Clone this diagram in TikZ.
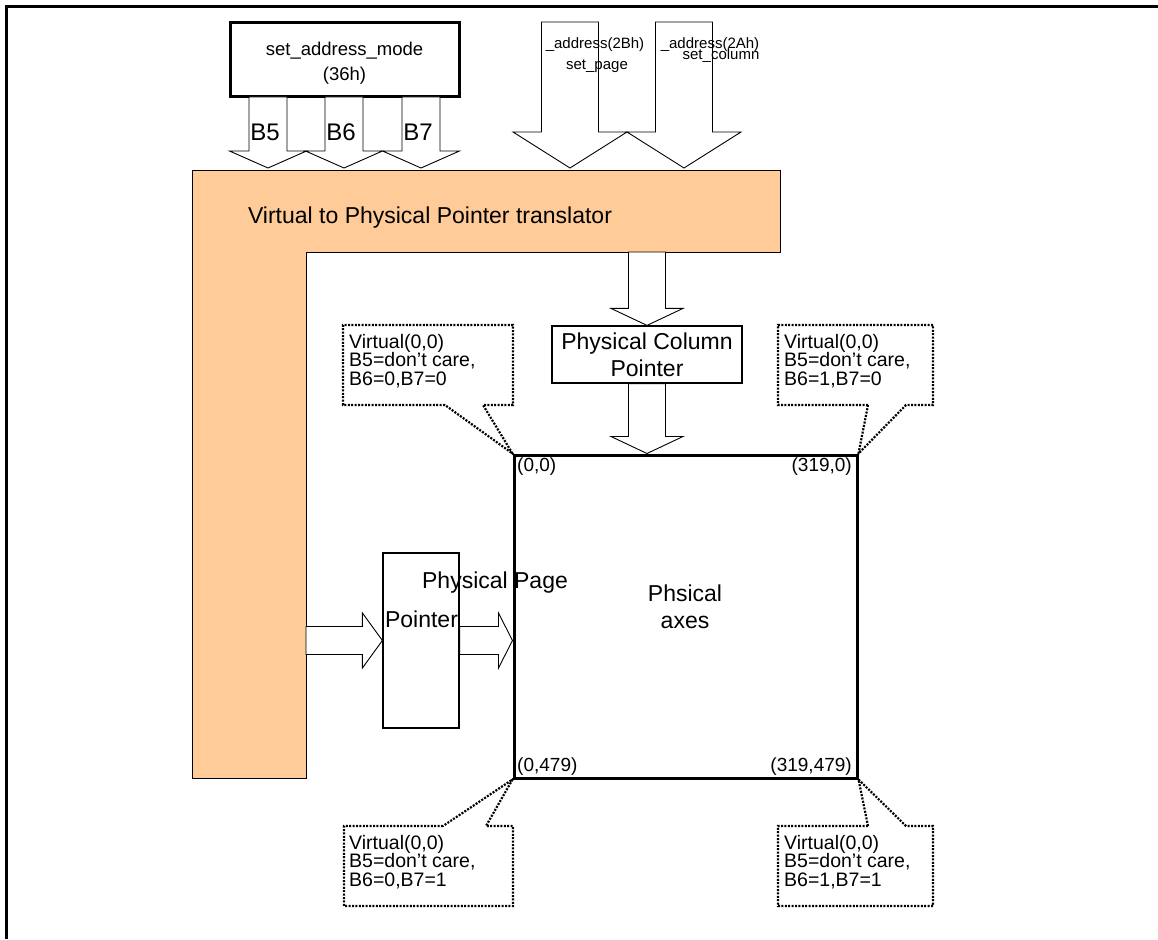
\documentclass[tikz,border=0pt]{standalone}
\usepackage{fontspec}
\setmainfont{Liberation Sans}
\usetikzlibrary{calc}

\definecolor{transorange}{RGB}{255,204,153}

\tikzset{
  blockarrow/.style={draw, fill=white, line width=0.9pt, line join=miter},
  cmdbox/.style={draw, line width=3pt, minimum width=229pt, minimum height=74pt,
    align=center, font=\fontsize{18.5}{25}\selectfont},
  ptrbox/.style={draw, line width=1.2pt, inner sep=0pt},
  bigtext/.style={font=\fontsize{23}{27}\selectfont, inner sep=0pt, align=center},
  smalltext/.style={font=\fontsize{15}{17}\selectfont, inner sep=0pt},
  cornertext/.style={font=\fontsize{19}{21}\selectfont, inner sep=0pt},
  calltext/.style={font=\fontsize{19.5}{18.5}\selectfont, inner sep=0pt, align=left, anchor=north west},
  callout/.style={draw, line width=2.2pt, dash pattern=on 2pt off 1.4pt},
}

% down block arrow: tail, tip, half shaft, half head, head length
\newcommand\downblock[5]{%
  \draw[blockarrow] ($(#1)+(-#3,0)$) -- ($(#2)+(-#3,-#5)$) -- ($(#2)+(-#4,-#5)$) -- (#2)
    -- ($(#2)+(#4,-#5)$) -- ($(#2)+(#3,-#5)$) -- ($(#1)+(#3,0)$) -- cycle;}
% right block arrow: tail, tip, half shaft, half head, head length
\newcommand\rightblock[5]{%
  \draw[blockarrow] ($(#1)+(0,-#3)$) -- ($(#2)+(-#5,-#3)$) -- ($(#2)+(-#5,-#4)$) -- (#2)
    -- ($(#2)+(-#5,#4)$) -- ($(#2)+(-#5,#3)$) -- ($(#1)+(0,#3)$) -- cycle;}

\begin{document}
\begin{tikzpicture}[x=1pt, y=-1pt]

  \useasboundingbox (0,0) rectangle (1158,939);

  % Frame
  \draw[line width=3pt] (6,939) -- (6,7) -- (1158,7);

  % Translator
  \draw[fill=transorange, line width=1pt] (192,170) -- (780,170) -- (780,252)
    -- (306,252) -- (306,778) -- (192,778) -- cycle;
  \node[bigtext] (trans) at (430,218) {Virtual to Physical Pointer translator};

  % set_address_mode
  \node[cmdbox] (mode) at (344.5,60) {};
  \node[align=center, font=\fontsize{18.5}{25}\selectfont, inner sep=0pt]
    (modelabel) at (344.5,63) {set\_address\_mode\\(36h)};
  \foreach \bx/\bn in {268/5, 344/6, 421/7} {
    \coordinate (b\bn tail) at (\bx,97);
    \coordinate (b\bn tip) at (\bx,168);
    \downblock{b\bn tail}{b\bn tip}{19}{38.5}{17}
    \node[bigtext, font=\fontsize{24}{26}\selectfont] (b\bn) at (\bx-3,132) {B\bn};
  }

  % set_page / set_column
  \coordinate (pagetail) at (570,22);
  \coordinate (pagetip) at (570,168);
  \coordinate (coltail) at (684,22);
  \coordinate (coltip) at (684,168);
  \downblock{pagetail}{pagetip}{28.5}{57}{36}
  \downblock{coltail}{coltip}{28.5}{57}{36}
  \node[smalltext] (pagecmd) at (595,45) {\_address(2Bh)};
  \node[smalltext] (pagename) at (597,66) {set\_page};
  \node[smalltext] (colcmd) at (710,45) {\_address(2Ah)};
  \node[smalltext] (colname) at (721,56) {set\_column};

  % Physical axes
  \node[draw, line width=3pt, minimum width=343pt, minimum height=323pt, inner sep=0pt]
    (axes) at (685.5,616.5) {};
  \node[bigtext] (axeslabel) at (685,607) {Phsical\\axes};
  \node[cornertext, anchor=west] (c00) at (517,467) {(0,0)};
  \node[cornertext, anchor=east] (c10) at (852,467) {(319,0)};
  \node[cornertext, anchor=west] (c01) at (517,767) {(0,479)};
  \node[cornertext, anchor=east] (c11) at (852,767) {(319,479)};

  % Column pointer
  \node[ptrbox, minimum width=190pt, minimum height=57pt, bigtext]
    (colptr) at (647,354.5) {Physical Column\\Pointer};
  \coordinate (transbottom) at (647,252);
  \downblock{transbottom}{colptr.north}{18.5}{36}{17}
  \downblock{colptr.south}{colptr.south |- axes.north}{18.5}{36}{17}

  % Page pointer
  \node[ptrbox, minimum width=76pt, minimum height=175pt] (pageptr) at (421,640.5) {};
  \coordinate (transright) at (306,640.5);
  \rightblock{transright}{pageptr.west}{14}{27.5}{20}
  \rightblock{pageptr.east}{axes.west |- pageptr.east}{14}{27.5}{14}
  \node[bigtext] (pagelabel) at (495,583) {Physical Page};
  \node[bigtext] (pagelabel2) at (421.5,619) {Pointer};

  % Callouts
  \draw[callout] (445,405) -- (343,405) -- (343,325) -- (513,325) -- (513,405)
    -- (483,405) -- (axes.north west) -- cycle;
  \node[calltext] (vtl) at (349,334) {Virtual(0,0)\\B5=don't care,\\B6=0,B7=0};

  \draw[callout] (868,405) -- (778,405) -- (778,325) -- (933,325) -- (933,405)
    -- (906,405) -- (axes.north east) -- cycle;
  \node[calltext] (vtr) at (784,334) {Virtual(0,0)\\B5=don't care,\\B6=1,B7=0};

  \draw[callout] (443,826) -- (344,826) -- (344,906) -- (513,906) -- (513,826)
    -- (486,826) -- (axes.south west) -- cycle;
  \node[calltext] (vbl) at (349,835) {Virtual(0,0)\\B5=don't care,\\B6=0,B7=1};

  \draw[callout] (868,826) -- (778,826) -- (778,906) -- (933,906) -- (933,826)
    -- (906,826) -- (axes.south east) -- cycle;
  \node[calltext] (vbr) at (784,835) {Virtual(0,0)\\B5=don't care,\\B6=1,B7=1};

\end{tikzpicture}
\end{document}
